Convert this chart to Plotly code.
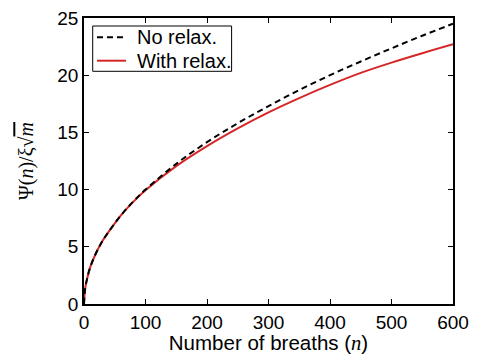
import plotly.graph_objects as go

n_vals = [0, 2, 5, 10, 20, 30, 40, 60, 80, 100, 150, 200, 250, 300, 350, 400, 450, 500, 550, 600]
no_relax = [0, 1.4, 2.2, 3.2, 4.5, 5.5, 6.3, 7.75, 8.95, 10.0, 12.25, 14.15, 15.8, 17.3, 18.7, 20.0, 21.2, 22.35, 23.45, 24.5]
with_relax = [0, 1.4, 2.2, 3.2, 4.5, 5.5, 6.3, 7.75, 8.93, 9.95, 12.05, 13.8, 15.35, 16.75, 18.0, 19.15, 20.2, 21.1, 21.92, 22.7]

x_ticks = [0, 100, 200, 300, 400, 500, 600]
y_ticks = [0, 5, 10, 15, 20, 25]
legend_labels = ["No relax.", "With relax."]

RED = "#d62728"
SANS = "Liberation Sans, Arial"

fig = go.Figure()
fig.add_trace(go.Scatter(x=n_vals, y=with_relax, mode="lines", name=legend_labels[1],
                         line=dict(color=RED, width=2, shape="spline"), showlegend=False))
fig.add_trace(go.Scatter(x=n_vals, y=no_relax, mode="lines", name=legend_labels[0],
                         line=dict(color="black", width=2, dash="6px,4px", shape="spline"),
                         showlegend=False))

axis_common = dict(showline=True, linecolor="black", linewidth=1.5, mirror="ticks",
                   ticks="inside", ticklen=5, tickwidth=1, tickcolor="black",
                   showgrid=False, zeroline=False, automargin=False,
                   tickfont=dict(family=SANS, size=19, color="black"))

# manual legend box (domain coordinates)
shapes = [
    dict(type="rect", xref="x domain", yref="y domain", x0=0.0236, x1=0.400, y0=0.8136, y1=0.972,
         line=dict(color="black", width=1), fillcolor="white", layer="above"),
    dict(type="line", xref="x domain", yref="y domain", x0=0.0352, x1=0.1138, y0=0.9325, y1=0.9325,
         line=dict(color="black", width=2, dash="6px,4px"), layer="above"),
    dict(type="line", xref="x domain", yref="y domain", x0=0.0352, x1=0.1138, y0=0.8507, y1=0.8507,
         line=dict(color=RED, width=2), layer="above"),
]
annotations = [
    dict(xref="x domain", yref="y domain", x=0.1382, y=0.9325, xanchor="left", yanchor="middle",
         text=legend_labels[0], showarrow=False, font=dict(family=SANS, size=20, color="black")),
    dict(xref="x domain", yref="y domain", x=0.1382, y=0.8507, xanchor="left", yanchor="middle",
         text=legend_labels[1], showarrow=False, font=dict(family=SANS, size=20, color="black")),
]

fig.update_layout(
    width=477, height=354,
    margin=dict(l=84, r=24, t=18, b=50),
    plot_bgcolor="white", paper_bgcolor="white",
    showlegend=False,
    shapes=shapes, annotations=annotations,
    xaxis=dict(range=[0, 600], tickvals=x_ticks,
               title=dict(text='Number of breaths (<span style="font-family:Liberation Serif;font-style:italic">n</span>)',
                          font=dict(family=SANS, size=20.5, color="black"), standoff=5),
               **axis_common),
    yaxis=dict(range=[0, 25], tickvals=y_ticks,
               title=dict(text='Ψ(<i>n</i>)/ξ√<span style="text-decoration:overline"><i>m</i></span>',
                          font=dict(family="Liberation Serif, DejaVu Serif", size=20, color="black"), standoff=18),
               **axis_common),
)

fig.write_html("out.html")
